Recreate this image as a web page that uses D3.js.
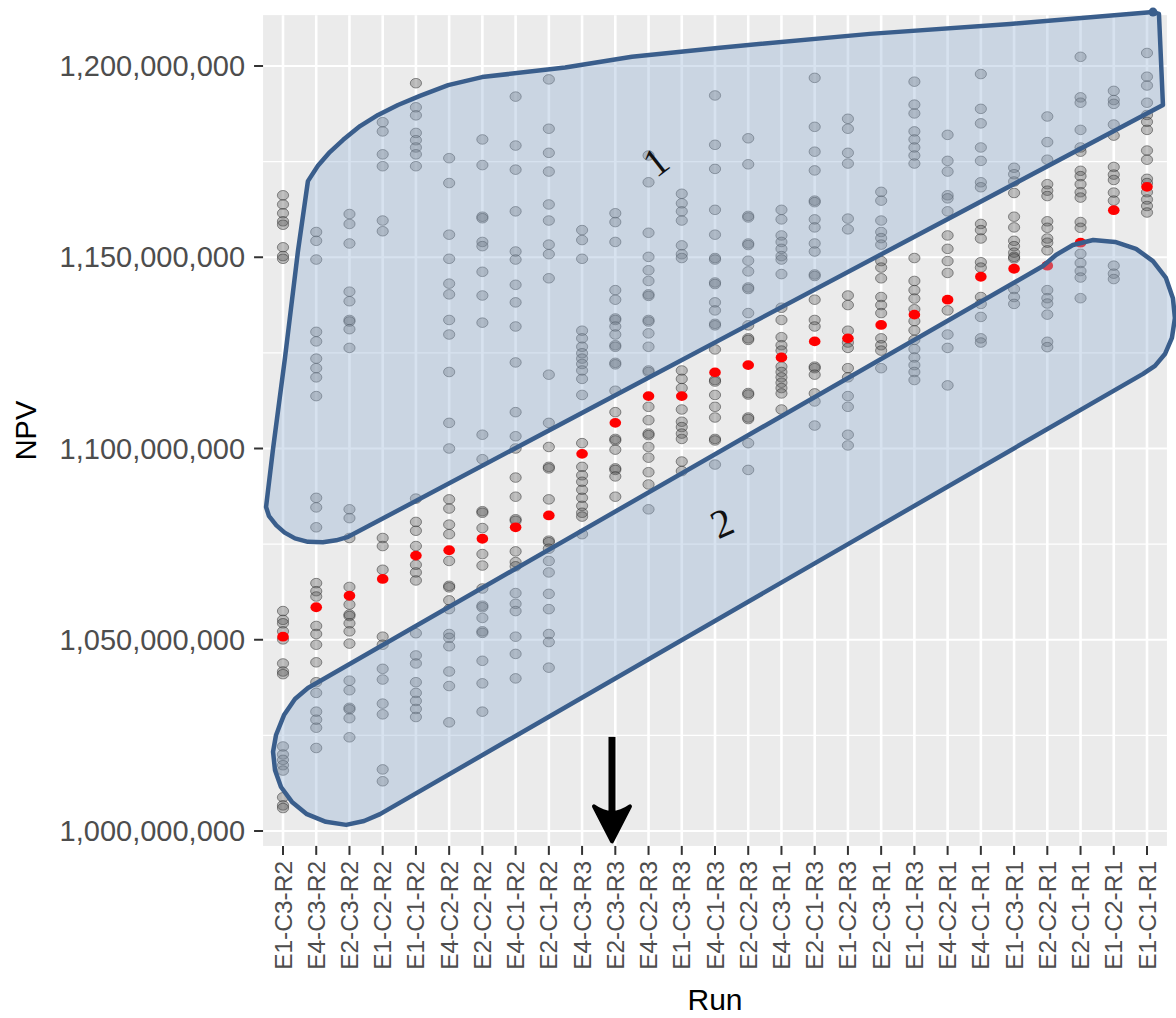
<!DOCTYPE html>
<html><head><meta charset="utf-8">
<script src="https://cdn.jsdelivr.net/npm/d3@7"></script>
<style>body{margin:0;background:#fff;} svg{display:block;font-family:"Liberation Sans",Arial,sans-serif;}</style>
</head><body><svg id="chart" width="1176" height="1018"></svg>
<script>
// ---- data (NPV values in millions) ----
const categories = ["E1-C3-R2","E4-C3-R2","E2-C3-R2","E1-C2-R2","E1-C1-R2","E4-C2-R2","E2-C2-R2","E4-C1-R2","E2-C1-R2","E4-C3-R3","E2-C3-R3","E4-C2-R3","E1-C3-R3","E4-C1-R3","E2-C2-R3","E4-C3-R1","E2-C1-R3","E1-C2-R3","E2-C3-R1","E1-C1-R3","E4-C2-R1","E4-C1-R1","E1-C3-R1","E2-C2-R1","E2-C1-R1","E1-C2-R1","E1-C1-R1"];
const meanNPV = [1050.8,1058.5,1061.5,1065.9,1072.0,1073.4,1076.4,1079.4,1082.5,1098.6,1106.7,1113.7,1113.7,1119.9,1121.8,1123.8,1128.0,1128.8,1132.3,1135.0,1138.9,1144.9,1147.0,1147.8,1153.8,1162.3,1168.4];
const npvSamples = [
 [1166.2,1163.8,1161.5,1159.4,1158.5,1152.6,1150.3,1149.6,1057.5,1055.2,1054.3,1052.2,1050.1,1043.8,1041.7,1041.0,1022.1,1020.0,1018.6,1017.2,1015.8,1008.8,1006.7,1006.0],
 [1156.6,1154.3,1149.4,1130.5,1128.0,1123.5,1121.0,1118.6,1113.7,1087.1,1084.6,1079.4,1064.8,1062.7,1061.3,1053.6,1051.5,1048.7,1044.1,1038.9,1036.1,1031.2,1029.1,1027.0,1021.7],
 [1161.3,1158.7,1153.6,1141.0,1138.5,1133.6,1133.2,1131.2,1126.3,1084.1,1081.8,1076.6,1063.8,1059.2,1056.6,1056.2,1054.3,1052.2,1049.0,1039.3,1036.8,1032.2,1031.8,1029.5,1024.5],
 [1185.3,1182.9,1176.9,1173.8,1159.6,1156.8,1076.6,1074.5,1068.3,1050.8,1048.7,1042.4,1039.6,1033.3,1030.5,1016.1,1013.0],
 [1195.5,1189.2,1187.1,1182.5,1180.6,1178.7,1176.9,1173.8,1086.9,1080.8,1078.5,1074.5,1069.6,1067.6,1065.5,1051.7,1045.9,1043.8,1038.9,1036.1,1034.0,1031.9,1029.8],
 [1175.9,1169.4,1155.9,1149.6,1143.1,1140.3,1133.6,1129.8,1120.0,1106.7,1100.0,1086.7,1084.3,1080.1,1077.6,1070.6,1064.1,1063.7,1060.3,1058.0,1051.5,1050.5,1048.3,1041.7,1037.9,1028.4],
 [1180.8,1174.1,1160.6,1160.2,1154.0,1152.9,1146.2,1140.0,1132.9,1103.6,1097.2,1083.6,1083.2,1079.2,1072.4,1069.4,1063.4,1058.9,1058.5,1055.7,1052.2,1051.8,1044.5,1038.6,1031.2],
 [1192.0,1179.2,1172.9,1162.0,1151.5,1149.4,1142.8,1138.2,1131.9,1122.5,1109.5,1103.2,1100.0,1092.4,1087.4,1081.5,1081.1,1073.1,1070.3,1069.2,1062.2,1059.4,1057.5,1050.8,1046.3,1039.9],
 [1196.5,1183.6,1177.3,1172.4,1163.8,1159.6,1153.3,1150.8,1144.5,1119.3,1106.7,1100.4,1095.2,1094.8,1086.7,1075.9,1075.5,1073.8,1070.6,1067.6,1062.0,1058.0,1051.5,1049.4,1042.7],
 [1157.1,1154.5,1149.6,1130.8,1128.8,1126.6,1124.9,1123.5,1122.1,1120.4,1118.2,1114.0,1101.4,1095.2,1093.0,1091.3,1089.2,1087.1,1085.0,1083.2,1082.2,1077.6],
 [1161.5,1159.2,1154.0,1141.4,1138.9,1134.0,1133.6,1131.9,1129.8,1127.0,1126.6,1122.4,1122.0,1115.1,1109.5,1102.5,1102.1,1099.7,1094.8,1094.4,1092.7,1087.4],
 [1176.6,1169.6,1156.4,1150.1,1146.6,1143.8,1140.3,1139.9,1133.6,1133.2,1130.1,1126.6,1120.4,1120.0,1110.9,1107.4,1103.9,1103.5,1100.4,1097.6,1093.8,1090.6,1084.1],
 [1166.6,1164.1,1162.0,1159.6,1153.1,1150.8,1149.8,1120.4,1118.2,1115.8,1110.2,1107.0,1105.6,1103.9,1102.5,1096.6,1094.1],
 [1192.3,1179.4,1173.1,1162.4,1155.9,1149.8,1149.4,1143.4,1143.0,1138.2,1136.1,1132.6,1132.2,1125.9,1117.9,1117.5,1114.0,1110.9,1108.1,1102.5,1102.1,1095.8],
 [1181.1,1174.3,1160.8,1160.4,1153.6,1153.2,1149.1,1146.3,1142.1,1141.7,1135.4,1132.2,1128.8,1128.4,1114.5,1114.1,1108.1,1107.7,1101.4,1094.4],
 [1162.4,1159.9,1155.7,1154.0,1152.2,1150.3,1149.4,1145.6,1136.8,1133.6,1129.1,1127.0,1125.6,1121.4,1120.0,1118.6,1117.2,1115.8,1114.4,1110.2],
 [1196.9,1184.1,1177.6,1172.7,1164.8,1164.4,1159.9,1157.8,1153.6,1151.5,1145.5,1145.1,1138.9,1133.6,1131.9,1121.4,1121.0,1119.3,1114.4,1112.3,1106.0],
 [1186.2,1183.6,1177.3,1174.5,1160.1,1157.3,1140.0,1137.5,1130.8,1127.7,1126.3,1121.0,1118.6,1113.7,1110.9,1103.6,1100.8],
 [1167.1,1164.8,1159.6,1156.6,1155.0,1153.3,1149.0,1147.3,1144.5,1139.6,1137.5,1135.4,1128.8,1127.0,1125.6,1121.0],
 [1195.9,1189.9,1187.6,1182.9,1180.8,1178.7,1176.6,1174.5,1149.8,1143.8,1141.4,1139.2,1136.4,1133.3,1130.9,1128.4,1126.0,1123.8,1121.8,1120.0,1117.9],
 [1182.0,1175.2,1172.4,1166.2,1165.4,1162.0,1155.7,1152.2,1149.0,1145.9,1136.1,1129.8,1126.3,1116.5],
 [1197.9,1188.8,1185.0,1178.7,1175.2,1169.6,1168.3,1158.7,1157.1,1154.9,1148.7,1147.3,1139.6,1137.8,1134.4,1128.8,1127.7],
 [1173.4,1171.7,1169.8,1166.8,1160.6,1157.8,1154.3,1152.9,1151.2,1150.1,1149.7,1141.7,1139.6,1137.8],
 [1186.8,1180.1,1175.5,1169.1,1167.4,1166.0,1159.4,1157.7,1154.9,1153.8,1151.8,1141.4,1139.3,1137.9,1135.0,1127.9,1126.5],
 [1202.4,1191.8,1190.4,1183.3,1178.7,1177.6,1172.6,1171.2,1169.1,1167.0,1165.6,1159.2,1157.7,1150.9,1148.5,1146.4,1144.7,1139.3],
 [1193.5,1191.1,1190.1,1184.7,1181.8,1173.6,1171.6,1170.2,1166.9,1164.8,1147.8,1145.7,1144.3],
 [1203.4,1197.2,1194.9,1190.4,1187.2,1185.4,1183.3,1177.9,1175.5,1170.5,1169.4,1167.0,1165.1,1163.4,1161.7]
];
const yTickValues = [1000,1050,1100,1150,1200];
const yMinorValues = [1025,1075,1125,1175];
const yLimits = [996.1,1213.3];
const xTitle = "Run", yTitle = "NPV";

// annotation outlines as [category index, NPV (millions)]
const region1 = [[-0.51,1084.7],[-0.42,1082.3],[-0.2,1079.9],[0.05,1078.0],[0.36,1076.5],[0.75,1075.6],[1.2,1075.5],[1.6,1076.0],[1.96,1076.9],
 [26.48,1189.8],[26.36,1213.6],[26.18,1214.1],[21.88,1211.0],[17.66,1208.4],[13.15,1204.8],[10.50,1202.4],[8.49,1199.6],
 [5.99,1197.1],[4.97,1195.0],[4.12,1192.2],[3.46,1189.8],[2.86,1187.2],[2.32,1184.3],[1.81,1180.7],[1.41,1177.5],
 [1.05,1173.9],[0.75,1169.9],[0.45,1151.6],[0.06,1123.7],[-0.30,1099.9]];
const region2 = [[0.75,1037.4],[0.36,1034.5],[0.03,1030.3],[-0.21,1025.1],[-0.30,1020.7],[-0.24,1015.9],[-0.06,1011.5],
 [0.27,1007.6],[0.72,1004.4],[1.29,1002.4],[1.90,1001.6],[2.44,1002.6],[2.92,1004.4],
 [25.88,1119.5],[26.24,1121.6],[26.54,1124.7],[26.75,1128.9],[26.84,1134.1],[26.78,1139.3],[26.57,1144.6],[26.18,1149.0],
 [25.67,1152.2],[25.04,1154.0],[24.38,1154.5],[23.77,1153.2],[23.26,1150.6],[22.87,1147.7]];
const regionLabels = [{text:"1", at:[11.22,1174.9], angle:-38},{text:"2", at:[13.21,1080.5], angle:-24}];
const arrowMark = {index:9.9, from:1024.6, to:997.3};

// ---- drawing ----
const svg = d3.select("#chart");
const x = d3.scalePoint().domain(categories).range([283,1147]);
const xi = d3.scaleLinear().domain([0,categories.length-1]).range([283,1147]);
const y = d3.scaleLinear().domain([1000,1200]).range([831,66]);
const px0 = xi(-0.6), px1 = xi(categories.length-1+0.6);
const py0 = y(yLimits[1]), py1 = y(yLimits[0]);

svg.append("rect").attr("x",px0).attr("y",py0).attr("width",px1-px0).attr("height",py1-py0).attr("fill","#EBEBEB");
const grid = svg.append("g");
grid.selectAll(".mn").data(yMinorValues).join("line").attr("x1",px0).attr("x2",px1)
  .attr("y1",d=>y(d)).attr("y2",d=>y(d)).attr("stroke","#fff").attr("stroke-width",1.1);
grid.selectAll(".mj").data(yTickValues).join("line").attr("x1",px0).attr("x2",px1)
  .attr("y1",d=>y(d)).attr("y2",d=>y(d)).attr("stroke","#fff").attr("stroke-width",2.2);
grid.selectAll(".vx").data(categories).join("line").attr("y1",py0).attr("y2",py1)
  .attr("x1",d=>x(d)).attr("x2",d=>x(d)).attr("stroke","#fff").attr("stroke-width",2.6);

const flat = [];
npvSamples.forEach((arr,i)=>arr.forEach(v=>flat.push({c:categories[i],v})));
svg.append("g").selectAll("ellipse").data(flat).join("ellipse")
  .attr("cx",d=>x(d.c)).attr("cy",d=>y(d.v)).attr("rx",5.6).attr("ry",4.8)
  .attr("fill","#555").attr("fill-opacity",0.36).attr("stroke","#2a2a2a").attr("stroke-opacity",0.5).attr("stroke-width",1);
svg.append("g").selectAll("ellipse").data(meanNPV).join("ellipse")
  .attr("cx",(d,i)=>x(categories[i])).attr("cy",d=>y(d)).attr("rx",5.8).attr("ry",4.9).attr("fill","#ff0000");

const line = d3.line().x(d=>xi(d[0])).y(d=>y(d[1])).curve(d3.curveLinearClosed);
const ann = svg.append("g");
[region1,region2].forEach(r=>{
  ann.append("path").attr("d",line(r)).attr("fill","rgb(150,180,214)").attr("fill-opacity",0.38)
    .attr("stroke","#3a5e8c").attr("stroke-width",4.5).attr("stroke-linejoin","round");
});
ann.append("circle").attr("cx",xi(region1[11][0])).attr("cy",y(region1[11][1])).attr("r",4.5).attr("fill","#3a5e8c");
ann.selectAll("text").data(regionLabels).join("text")
  .attr("transform",d=>`translate(${xi(d.at[0])},${y(d.at[1])}) rotate(${d.angle})`)
  .attr("text-anchor","middle").attr("dominant-baseline","central")
  .attr("font-family","'Liberation Serif','DejaVu Serif',serif").attr("font-size",40).attr("fill","#111")
  .text(d=>d.text);

// arrow
const ax = xi(arrowMark.index), ay1 = y(arrowMark.from), ay2 = y(arrowMark.to);
svg.append("line").attr("x1",ax).attr("x2",ax).attr("y1",ay1).attr("y2",ay2-24).attr("stroke","#000").attr("stroke-width",7);
svg.append("path").attr("d",`M${ax},${ay2} L${ax-18},${ay2-35} Q${ax},${ay2-22} ${ax+18},${ay2-35} Z`)
  .attr("fill","#000").attr("stroke","#000").attr("stroke-width",4).attr("stroke-linejoin","round");

// axes
const yAxis = svg.append("g");
yAxis.selectAll("line").data(yTickValues).join("line").attr("x1",px0-9).attr("x2",px0)
  .attr("y1",d=>y(d)).attr("y2",d=>y(d)).attr("stroke","#333").attr("stroke-width",2);
yAxis.selectAll("text").data(yTickValues).join("text").attr("x",px0-18).attr("y",d=>y(d))
  .attr("text-anchor","end").attr("dominant-baseline","central").attr("font-size",29).attr("fill","#4D4D4D")
  .text(d=>d3.format(",")(d*1e6));
const xAxis = svg.append("g");
xAxis.selectAll("line").data(categories).join("line").attr("x1",d=>x(d)).attr("x2",d=>x(d))
  .attr("y1",py1).attr("y2",py1+9).attr("stroke","#333").attr("stroke-width",2);
xAxis.selectAll("text").data(categories).join("text")
  .attr("transform",d=>`translate(${x(d)},${py1+15}) rotate(-90)`)
  .attr("text-anchor","end").attr("dominant-baseline","central").attr("font-size",24.5).attr("fill","#4D4D4D")
  .text(d=>d);
svg.append("text").attr("x",(px0+px1)/2).attr("y",1010).attr("text-anchor","middle").attr("font-size",30).attr("fill","#000").text(xTitle);
svg.append("text").attr("transform",`translate(36,${(py0+py1)/2}) rotate(-90)`).attr("text-anchor","middle")
  .attr("font-size",29).attr("fill","#000").text(yTitle);
</script></body></html>
